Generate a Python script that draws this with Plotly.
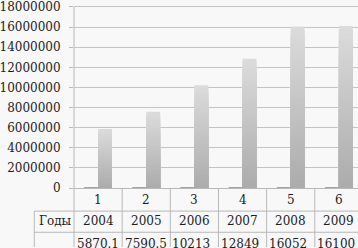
import plotly.graph_objects as go
import numpy as np

categories = ["1", "2", "3", "4", "5", "6"]
years = [2004, 2005, 2006, 2007, 2008, 2009]
values = [5870100, 7590500, 10213000, 12849000, 16052000, 16100000]
value_labels = ["5870.1", "7590.5", "10213", "12849", "16052", "16100"]
row_label = "Годы"
y_ticks = list(range(0, 18000001, 2000000))

W, H = 358, 248
ML, MR, MT, MB = 72, 0, 2, 60
plot_w = W - ML - MR
plot_h = H - MT - MB
col_px = 48.5
x_end = -0.5 + plot_w / col_px
bar_w = 14 / col_px
y_max = 18000000 * plot_h / 184.0

FONT = "DejaVu Serif"
TXT = "#1c1c1c"
LINE = "#b8b8b8"

fig = go.Figure()

# "Годы" series: tiny bars on the left of each group
fig.add_trace(go.Bar(
    x=categories, y=years, offset=-bar_w, width=bar_w,
    marker=dict(color="#9a9a9a", line=dict(color="#8a8a8a", width=1)),
    showlegend=False, name=row_label,
))

# main series with vertical gradient (light top, darker bottom)
N = 40
top = np.array([220, 220, 220])
bot = np.array([172, 172, 172])
vals = np.array(values, dtype=float)
for k in range(N, 0, -1):
    f = (k - 0.5) / N
    c = bot + (top - bot) * f
    fig.add_trace(go.Bar(
        x=categories, y=vals * k / N, offset=0, width=bar_w,
        marker=dict(color="rgb(%d,%d,%d)" % tuple(c.astype(int)), line=dict(width=0)),
        showlegend=False, hoverinfo="skip" if k != N else None,
    ))

def px_to_paper_x(px):
    return (px - ML) / plot_w

def px_to_paper_y(py):
    return (H - MB - py) / plot_h

shapes = []
# y axis line extended through the table
shapes.append(dict(type="line", xref="paper", yref="paper", x0=0, x1=0,
                   y0=px_to_paper_y(4), y1=px_to_paper_y(H), line=dict(color=LINE, width=1)))
# column dividers
for i in range(1, len(categories) + 1):
    xp = px_to_paper_x(ML + i * col_px)
    if xp <= 1:
        shapes.append(dict(type="line", xref="paper", yref="paper", x0=xp, x1=xp,
                           y0=0, y1=px_to_paper_y(H), line=dict(color=LINE, width=1)))
# table horizontal lines and left border
row1_bottom, row2_bottom, left_px = 211.5, 233, 32
for py in (row1_bottom, row2_bottom):
    shapes.append(dict(type="line", xref="paper", yref="paper",
                       x0=px_to_paper_x(left_px), x1=1,
                       y0=px_to_paper_y(py), y1=px_to_paper_y(py),
                       line=dict(color=LINE, width=1)))
shapes.append(dict(type="line", xref="paper", yref="paper",
                   x0=px_to_paper_x(left_px), x1=px_to_paper_x(left_px),
                   y0=px_to_paper_y(row1_bottom), y1=px_to_paper_y(H),
                   line=dict(color=LINE, width=1)))

annotations = []
fnt = dict(family=FONT, size=12, color=TXT)
for i, c in enumerate(categories):
    annotations.append(dict(x=i, y=px_to_paper_y(200.5), xref="x", yref="paper",
                            text=c, showarrow=False, font=fnt,
                            xanchor="center", yanchor="middle"))
    annotations.append(dict(x=i, y=px_to_paper_y(222), xref="x", yref="paper",
                            text=str(years[i]), showarrow=False, font=fnt,
                            xanchor="center", yanchor="middle"))
    annotations.append(dict(x=i, y=px_to_paper_y(245), xref="x", yref="paper",
                            text=value_labels[i], showarrow=False, font=fnt,
                            xanchor="center", yanchor="middle",
                            xshift=-3 if len(value_labels[i]) == 5 else 0))
annotations.append(dict(x=px_to_paper_x(53), y=px_to_paper_y(222), xref="paper", yref="paper",
                        text=row_label, showarrow=False, font=fnt,
                        xanchor="center", yanchor="middle"))

fig.update_layout(
    width=W, height=H,
    margin=dict(l=ML, r=MR, t=MT, b=MB, pad=0),
    barmode="overlay",
    paper_bgcolor="#f8f8f8", plot_bgcolor="#f8f8f8",
    showlegend=False,
    xaxis=dict(type="category", range=[-0.5, x_end], showticklabels=False,
               showgrid=False, zeroline=False, showline=True, linecolor=LINE,
               linewidth=1, ticks=""),
    yaxis=dict(range=[0, y_max], tickvals=y_ticks,
               ticktext=[str(v) for v in y_ticks],
               showgrid=True, gridcolor="#c4c4c4", gridwidth=1,
               zeroline=False, showline=False,
               ticks="outside", ticklen=4, tickcolor=LINE,
               tickfont=dict(family=FONT, size=12, color=TXT),
               ticklabelstandoff=6, ticklabeloverflow="allow"),
    shapes=shapes, annotations=annotations,
)

fig.write_html("out.html")
